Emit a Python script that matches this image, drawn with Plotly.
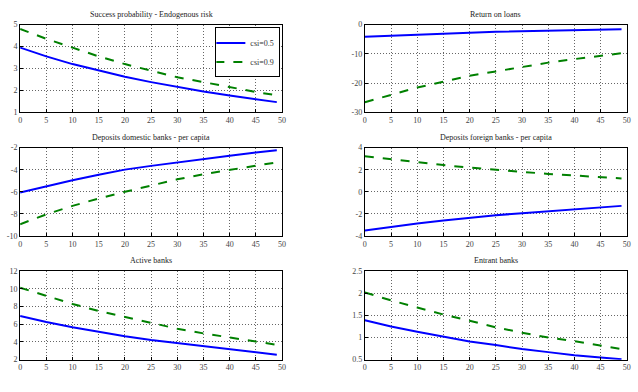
import plotly.graph_objects as go

x = [0, 5, 10, 15, 20, 25, 30, 35, 40, 45, 49]

titles = ["Success probability - Endogenous risk", "Return on loans",
          "Deposits domestic banks - per capita", "Deposits foreign banks - per capita",
          "Active banks", "Entrant banks"]

blue_success = [3.95, 3.55, 3.2, 2.9, 2.62, 2.38, 2.15, 1.95, 1.77, 1.6, 1.47]
green_success = [4.8, 4.35, 3.95, 3.55, 3.2, 2.9, 2.6, 2.38, 2.15, 1.93, 1.78]

blue_return = [-4.2, -3.8, -3.4, -3.1, -2.8, -2.5, -2.3, -2.1, -1.9, -1.7, -1.6]
green_return = [-26.5, -24.0, -21.5, -19.5, -17.5, -16.0, -14.5, -13.0, -11.8, -10.7, -9.8]

blue_dom = [-6.06, -5.5, -4.96, -4.45, -3.99, -3.65, -3.33, -3.0, -2.74, -2.45, -2.24]
green_dom = [-8.93, -8.04, -7.27, -6.6, -6.0, -5.4, -4.87, -4.4, -4.01, -3.65, -3.33]

blue_for = [-3.5, -3.17, -2.87, -2.6, -2.34, -2.12, -1.93, -1.75, -1.57, -1.4, -1.27]
green_for = [3.23, 2.95, 2.7, 2.42, 2.19, 1.98, 1.78, 1.62, 1.48, 1.33, 1.21]

blue_active = [6.93, 6.25, 5.66, 5.12, 4.65, 4.22, 3.87, 3.48, 3.12, 2.8, 2.56]
green_active = [10.13, 9.2, 8.3, 7.5, 6.81, 6.12, 5.5, 4.97, 4.5, 4.05, 3.68]

blue_entrant = [1.39, 1.25, 1.13, 1.02, 0.91, 0.83, 0.74, 0.67, 0.6, 0.55, 0.51]
green_entrant = [2.02, 1.84, 1.68, 1.52, 1.38, 1.23, 1.11, 1.0, 0.92, 0.82, 0.74]

blues = [blue_success, blue_return, blue_dom, blue_for, blue_active, blue_entrant]
greens = [green_success, green_return, green_dom, green_for, green_active, green_entrant]

ytickvals = [
    [1, 2, 3, 4, 5],
    [-30, -20, -10, 0],
    [-10, -8, -6, -4, -2],
    [-4, -2, 0, 2, 4],
    [2, 4, 6, 8, 10, 12],
    [0.5, 1, 1.5, 2, 2.5],
]
xtickvals = [0, 5, 10, 15, 20, 25, 30, 35, 40, 45, 50]

W, H = 638, 392
col_px = [(18.3, 282.7), (366.3, 630.7)]
row_px = [(21, 111), (147, 237.5), (273.5, 364)]

fig = go.Figure()
font = dict(family="Liberation Serif", size=8, color="#444444")

for i in range(6):
    r, c = divmod(i, 2)
    n = "" if i == 0 else str(i + 1)
    xa, ya = "x" + n, "y" + n
    fig.add_trace(go.Scatter(x=x, y=blues[i], mode="lines", xaxis=xa, yaxis=ya,
                             line=dict(color="#0000ff", width=2), name="csi=0.5",
                             showlegend=(i == 0)))
    fig.add_trace(go.Scatter(x=x, y=greens[i], mode="lines", xaxis=xa, yaxis=ya,
                             line=dict(color="#008000", width=2, dash="dash"), name="csi=0.9",
                             showlegend=(i == 0)))
    x0, x1 = col_px[c]
    yt, yb = row_px[r]
    common = dict(showline=True, linecolor="black", linewidth=1, mirror=True,
                  ticks="inside", ticklen=3, tickcolor="black",
                  showgrid=True, gridcolor="#666666", griddash="1px,2px", gridwidth=1,
                  zeroline=False, tickfont=font)
    yv = ytickvals[i]
    fig.layout["xaxis" + n] = dict(domain=[x0 / W, x1 / W], anchor=ya, range=[0, 50],
                                   tickvals=xtickvals, ticktext=[f"{v:g}" for v in xtickvals],
                                   **common)
    fig.layout["yaxis" + n] = dict(domain=[1 - yb / H, 1 - yt / H], anchor=xa,
                                   range=[yv[0], yv[-1]], tickvals=yv,
                                   ticktext=[f"{v:g}" for v in yv], **common)
    fig.add_annotation(text=titles[i], x=(x0 + x1) / 2 / W, y=1 - (yt - 4) / H,
                       xref="paper", yref="paper", xanchor="center", yanchor="bottom",
                       showarrow=False, font=dict(family="Liberation Serif", size=8, color="#222222"))

fig.update_layout(
    width=W, height=H, margin=dict(l=0, r=0, t=0, b=0),
    paper_bgcolor="white", plot_bgcolor="white",
    legend=dict(x=281 / W, y=1 - 24 / H, xanchor="right", yanchor="top",
                bgcolor="white", bordercolor="black", borderwidth=1,
                font=dict(family="Liberation Serif", size=8, color="#333333"),
                tracegroupgap=0, itemwidth=30, indentation=-6),
)

fig.write_html("out.html")
